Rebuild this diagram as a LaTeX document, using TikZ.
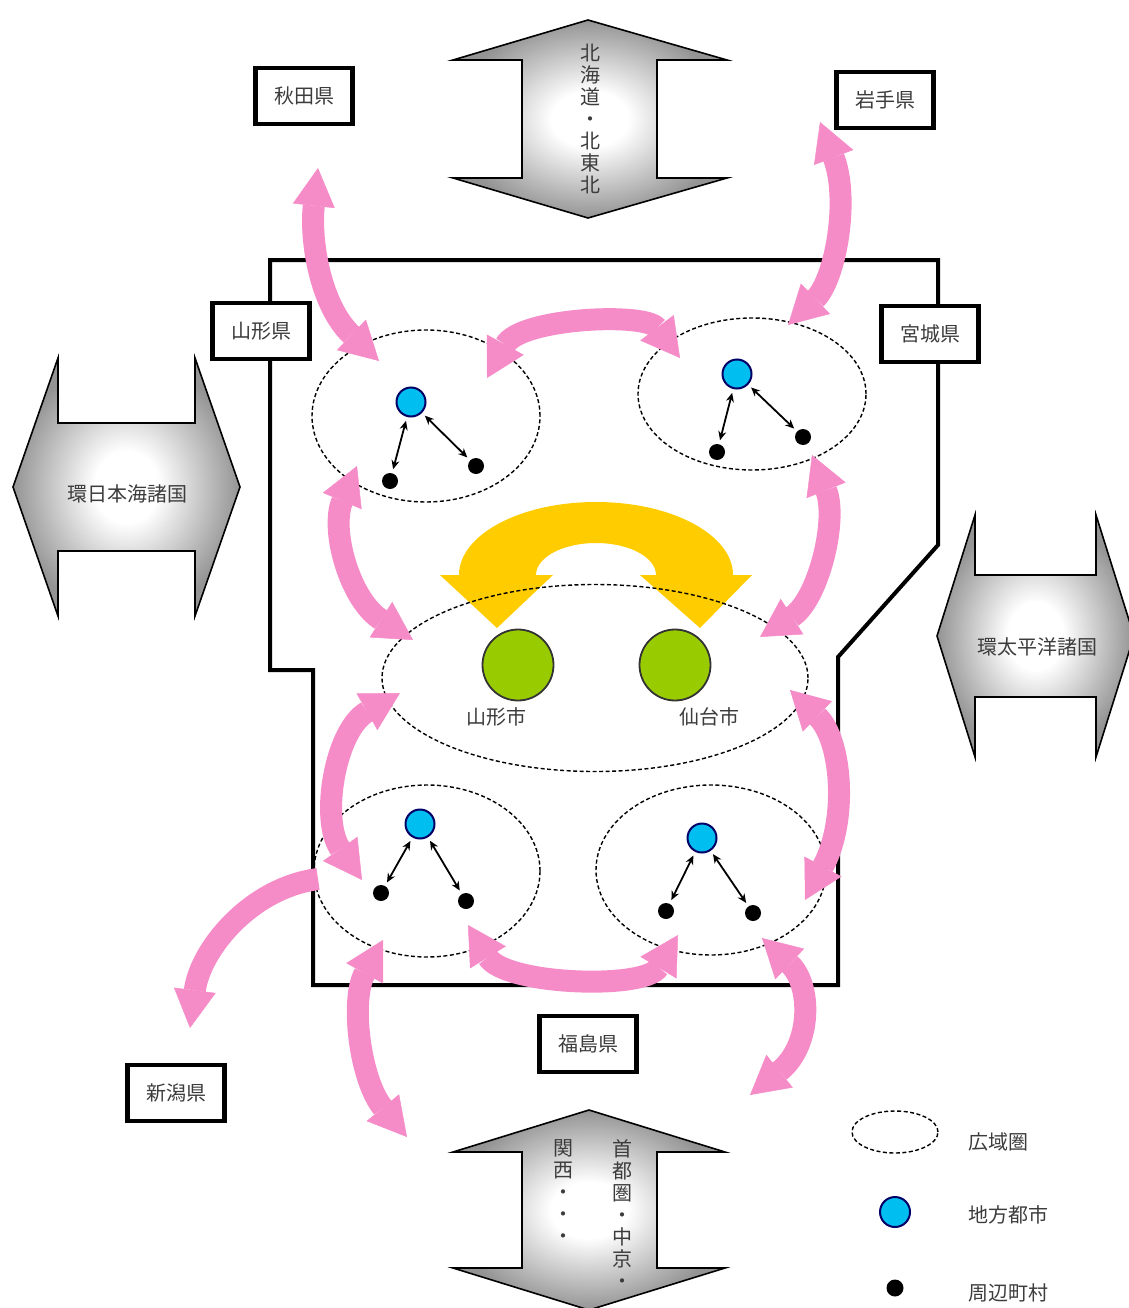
\documentclass[tikz,border=0pt]{standalone}
\usepackage{fontspec}
\setmainfont{Noto Sans CJK JP}
\usetikzlibrary{arrows.meta,shapes.geometric}

\definecolor{pinkflow}{RGB}{245,140,200}
\definecolor{goldflow}{RGB}{255,204,0}
\definecolor{cityblue}{RGB}{0,190,240}
\definecolor{citygreen}{RGB}{153,204,0}
\definecolor{txtgray}{RGB}{60,60,60}

\pgfdeclareradialshading{gateshade}{\pgfpoint{0bp}{0bp}}{color(0bp)=(white); color(7bp)=(white); color(25bp)=(black!42); color(50bp)=(black!42)}

\tikzset{
  pref/.style={draw, line width=4.5pt, fill=white, minimum width=97pt, minimum height=56pt,
    inner sep=0pt, text=txtgray, font=\fontsize{20}{22}\selectfont},
  area/.style={ellipse, draw, dash pattern=on 4pt off 2.5pt, line width=1.4pt, inner sep=0pt},
  hub/.style={circle, draw=black!60!blue, line width=2pt, fill=cityblue, minimum size=29pt, inner sep=0pt},
  vil/.style={circle, fill=black, minimum size=16pt, inner sep=0pt},
  core/.style={circle, draw=black!80, line width=1.8pt, fill=citygreen, minimum size=71pt, inner sep=0pt},
  link/.style={line width=1.8pt, {Stealth[length=9pt,width=8pt]}-{Stealth[length=9pt,width=8pt]},
    shorten <=4pt, shorten >=4pt},
  flow/.style={draw=pinkflow, line width=22pt,
    {Triangle[width=42pt,length=38pt,line width=0.5pt]}-{Triangle[width=42pt,length=38pt,line width=0.5pt]}},
  flowone/.style={draw=pinkflow, line width=22pt, -{Triangle[width=42pt,length=38pt,line width=0.5pt]}},
  gate/.style={draw=black, line width=1.6pt, shading=gateshade},
  lbl/.style={text=txtgray, font=\fontsize{20}{22}\selectfont, inner sep=0pt},
}

\begin{document}
\begin{tikzpicture}[x=1pt,y=-1pt]
\useasboundingbox (0,0) rectangle (1128,1308);

% outer regions (gray double arrows)
\shade[gate] (588,20) -- (727,60) -- (657,60) -- (657,178) -- (727,178) -- (588,218)
  -- (453,178) -- (522,178) -- (522,60) -- (453,60) -- cycle;
\node[lbl, align=center] (north) at (590,119) {北\\海\\道\\・\\北\\東\\北};

\shade[gate] (13,487) -- (58,358) -- (58,423) -- (195,423) -- (195,358) -- (240,487)
  -- (195,616) -- (195,551) -- (58,551) -- (58,616) -- cycle;
\node[lbl] (sea) at (127,494) {環日本海諸国};

\shade[gate] (937,636) -- (975,515) -- (975,575) -- (1096,575) -- (1096,515) -- (1134,636)
  -- (1096,757) -- (1096,697) -- (975,697) -- (975,757) -- cycle;
\node[lbl] (pacific) at (1037,647) {環太平洋諸国};

\shade[gate] (589,1110) -- (725,1152) -- (657,1152) -- (657,1268) -- (725,1268) -- (589,1310)
  -- (453,1268) -- (522,1268) -- (522,1152) -- (453,1152) -- cycle;
\node[lbl, align=center, anchor=north] (capital) at (622,1139) {首\\都\\圏\\・\\中\\京\\・};
\node[lbl, align=center, anchor=north] (kansai) at (563,1139) {関\\西\\・\\・\\・};

% the two prefectures
\draw[line width=4pt] (270,260) -- (938,260) -- (938,545) -- (838,657) -- (838,985)
  -- (313,985) -- (313,670) -- (270,670) -- cycle;

\node[pref] (akita) at (304,96) {秋田県};
\node[pref] (iwate) at (885,100) {岩手県};
\node[pref] (yamagata) at (261,331) {山形県};
\node[pref] (miyagi) at (930,334) {宮城県};
\node[pref] (fukushima) at (588,1044) {福島県};
\node[pref] (niigata) at (176,1093) {新潟県};

% exchange between the two core cities
\fill[goldflow] (440,575) -- (497,628) -- (553,575) -- (536,575)
  arc[start angle=180, end angle=360, x radius=60, y radius=32]
  -- (640,575) -- (700,628) -- (752,575) -- (733,575)
  arc[start angle=0, end angle=-180, x radius=137, y radius=73] -- cycle;

% wide areas
\node[area, minimum width=228pt, minimum height=172pt] (areaNW) at (426,416) {};
\node[area, minimum width=228pt, minimum height=152pt] (areaNE) at (752,394) {};
\node[area, minimum width=426pt, minimum height=187pt] (areaC) at (595,678) {};
\node[area, minimum width=226pt, minimum height=172pt] (areaSW) at (427,871) {};
\node[area, minimum width=230pt, minimum height=170pt] (areaSE) at (711,870) {};

% flows
\coordinate (akA) at (318,168);  \coordinate (akB) at (379,361);
\coordinate (iwA) at (820,122);  \coordinate (iwB) at (788,325);
\coordinate (topA) at (487,378); \coordinate (topB) at (680,358);
\coordinate (lfA) at (357,466);  \coordinate (lfB) at (413,640);
\coordinate (rtA) at (812,455);  \coordinate (rtB) at (760,637);
\coordinate (lgA) at (400,693);  \coordinate (lgB) at (362,880);
\coordinate (rgA) at (790,690);  \coordinate (rgB) at (805,900);
\coordinate (botA) at (468,925); \coordinate (botB) at (678,935);
\coordinate (niA) at (318,879);  \coordinate (niB) at (190,1028);
\coordinate (swA) at (383,940);  \coordinate (swB) at (407,1137);
\coordinate (seA) at (762,938);  \coordinate (seB) at (750,1095);

\draw[flow] (akA) .. controls (310,240) and (320,305) .. (akB);
\draw[flow] (iwA) .. controls (850,200) and (835,280) .. (iwB);
\draw[flow] (topA) .. controls (520,318) and (645,312) .. (topB);
\draw[flow] (lfA) .. controls (330,530) and (350,600) .. (lfB);
\draw[flow] (rtA) .. controls (838,520) and (818,600) .. (rtB);
\draw[flow] (lgA) .. controls (335,730) and (320,820) .. (lgB);
\draw[flow] (rgA) .. controls (842,740) and (848,820) .. (rgB);
\draw[flow] (botA) .. controls (505,985) and (645,990) .. (botB);
\draw[flowone] (niA) .. controls (250,888) and (200,950) .. (niB);
\draw[flow] (swA) .. controls (350,1000) and (360,1080) .. (swB);
\draw[flow] (seA) .. controls (812,985) and (812,1045) .. (seB);

% core cities
\node[core] (ymCity) at (518,665) {};
\node[core] (sdCity) at (675,665) {};
\node[lbl] (ymName) at (496,717) {山形市};
\node[lbl] (sdName) at (709,717) {仙台市};

% local cities and towns
\node[hub] (hubNW) at (411,402) {};
\node[vil] (vilNWa) at (390,481) {};
\node[vil] (vilNWb) at (476,466) {};
\draw[link] (vilNWa) -- (hubNW);
\draw[link] (hubNW) -- (vilNWb);

\node[hub] (hubNE) at (737,374) {};
\node[vil] (vilNEa) at (717,452) {};
\node[vil] (vilNEb) at (803,437) {};
\draw[link] (vilNEa) -- (hubNE);
\draw[link] (hubNE) -- (vilNEb);

\node[hub] (hubSW) at (420,824) {};
\node[vil] (vilSWa) at (381,893) {};
\node[vil] (vilSWb) at (466,901) {};
\draw[link] (vilSWa) -- (hubSW);
\draw[link] (hubSW) -- (vilSWb);

\node[hub] (hubSE) at (702,838) {};
\node[vil] (vilSEa) at (666,911) {};
\node[vil] (vilSEb) at (753,913) {};
\draw[link] (vilSEa) -- (hubSE);
\draw[link] (hubSE) -- (vilSEb);

% legend
\node[area, minimum width=86pt, minimum height=42pt] (keyArea) at (895,1132) {};
\node[lbl] (keyAreaTxt) at (998,1142) {広域圏};
\node[hub, minimum size=30pt] (keyHub) at (895,1212) {};
\node[lbl] (keyHubTxt) at (1008,1215) {地方都市};
\node[vil, minimum size=17pt] (keyVil) at (895,1288) {};
\node[lbl] (keyVilTxt) at (1008,1293) {周辺町村};
\end{tikzpicture}
\end{document}
